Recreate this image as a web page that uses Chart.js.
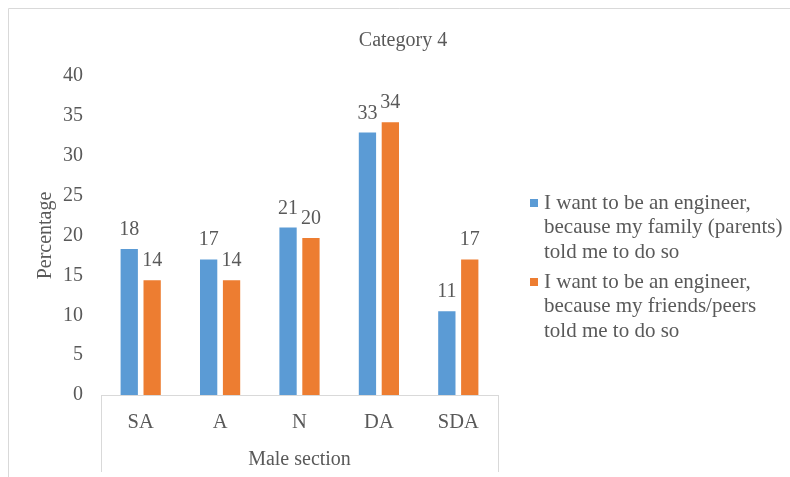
<!DOCTYPE html>
<html>
<head>
<meta charset="utf-8">
<script src="https://cdn.jsdelivr.net/npm/chart.js@4"></script>
<style>
  html, body { margin: 0; padding: 0; background: #ffffff; }
  #wrap { position: relative; width: 790px; height: 477px; }
</style>
</head>
<body>
<div id="wrap"><canvas id="c" width="790" height="477"></canvas></div>
<script>
const chartTitle = "Category 4";
const categories = ["SA", "A", "N", "DA", "SDA"];
const seriesFamily = [18.3, 17.0, 21.0, 32.9, 10.5];
const seriesFriends = [14.4, 14.4, 19.7, 34.2, 17.0];
const seriesNames = [
  ["I want to be an engineer,", "because my family (parents)", "told me to do so"],
  ["I want to be an engineer,", "because my friends/peers", "told me to do so"]
];
const yTitle = "Percentage";
const xTitle = "Male section";
const yMin = 0, yMax = 40, yStep = 5;

const FONT = "'Liberation Serif', 'Times New Roman', serif";
const TEXT = "#595959";
const LINE = "#d9d9d9";
const COLORS = ["#5B9BD5", "#ED7D31"];

const decorPlugin = {
  id: "decor",
  afterDraw(chart) {
    const ctx = chart.ctx;
    const area = chart.chartArea;
    ctx.save();
    // outer border (top & left visible)
    ctx.strokeStyle = LINE;
    ctx.lineWidth = 1;
    ctx.beginPath();
    ctx.moveTo(8.5, 477);
    ctx.lineTo(8.5, 8.5);
    ctx.lineTo(790, 8.5);
    ctx.stroke();
    // axis box side lines
    ctx.beginPath();
    const l = Math.round(area.left) + 0.5, r = Math.round(area.right) + 0.5;
    ctx.moveTo(l, area.bottom);
    ctx.lineTo(l, 472);
    ctx.moveTo(r, area.bottom);
    ctx.lineTo(r, 472);
    ctx.stroke();
    // title
    ctx.fillStyle = TEXT;
    ctx.font = "20px " + FONT;
    ctx.textAlign = "center";
    ctx.textBaseline = "middle";
    ctx.fillText(chartTitle, 403, 41);
    // data labels
    ctx.textBaseline = "alphabetic";
    chart.data.datasets.forEach((ds, di) => {
      const meta = chart.getDatasetMeta(di);
      meta.data.forEach((bar, i) => {
        ctx.fillText(String(Math.round(ds.data[i])), bar.x, bar.y - 14);
      });
    });
    // legend
    ctx.font = "21px " + FONT;
    ctx.textAlign = "left";
    ctx.textBaseline = "middle";
    const lineGap = 24.7;
    const itemStarts = [203, 282];
    chart.data.datasets.forEach((ds, di) => {
      const y = itemStarts[di];
      ctx.fillStyle = ds.backgroundColor;
      ctx.fillRect(530, y - 4, 8, 8);
      ctx.fillStyle = TEXT;
      seriesNames[di].forEach((line, li) => {
        ctx.fillText(line, 544, y + li * lineGap);
      });
    });
    ctx.restore();
  }
};

new Chart(document.getElementById("c"), {
  type: "bar",
  data: {
    labels: categories,
    datasets: [
      { label: seriesNames[0].join(" "), data: seriesFamily, backgroundColor: COLORS[0],
        categoryPercentage: 0.577, barPercentage: 0.755 },
      { label: seriesNames[1].join(" "), data: seriesFriends, backgroundColor: COLORS[1],
        categoryPercentage: 0.577, barPercentage: 0.755 }
    ]
  },
  options: {
    responsive: false,
    animation: false,
    events: [],
    layout: { padding: { left: 0, top: 76, right: 292, bottom: 0 } },
    plugins: {
      legend: { display: false },
      title: { display: false },
      tooltip: { enabled: false }
    },
    scales: {
      x: {
        grid: { display: false, drawTicks: false },
        border: { display: true, color: LINE, width: 1 },
        ticks: { color: TEXT, font: { family: FONT, size: 20.5 }, padding: 15 },
        title: { display: true, text: xTitle, color: TEXT, font: { family: FONT, size: 20 },
                 padding: { top: 0, bottom: 5 } },
        afterFit(scale) { scale.height = 82; }
      },
      y: {
        min: yMin, max: yMax,
        grid: { display: false, drawTicks: false },
        border: { display: false },
        ticks: { stepSize: yStep, color: TEXT, font: { family: FONT, size: 20 }, padding: 18 },
        title: { display: true, text: yTitle, color: TEXT, font: { family: FONT, size: 20 },
                 padding: { top: 34, bottom: 0 } },
        afterFit(scale) { scale.width = 101; }
      }
    }
  },
  plugins: [decorPlugin]
});
</script>
</body>
</html>
